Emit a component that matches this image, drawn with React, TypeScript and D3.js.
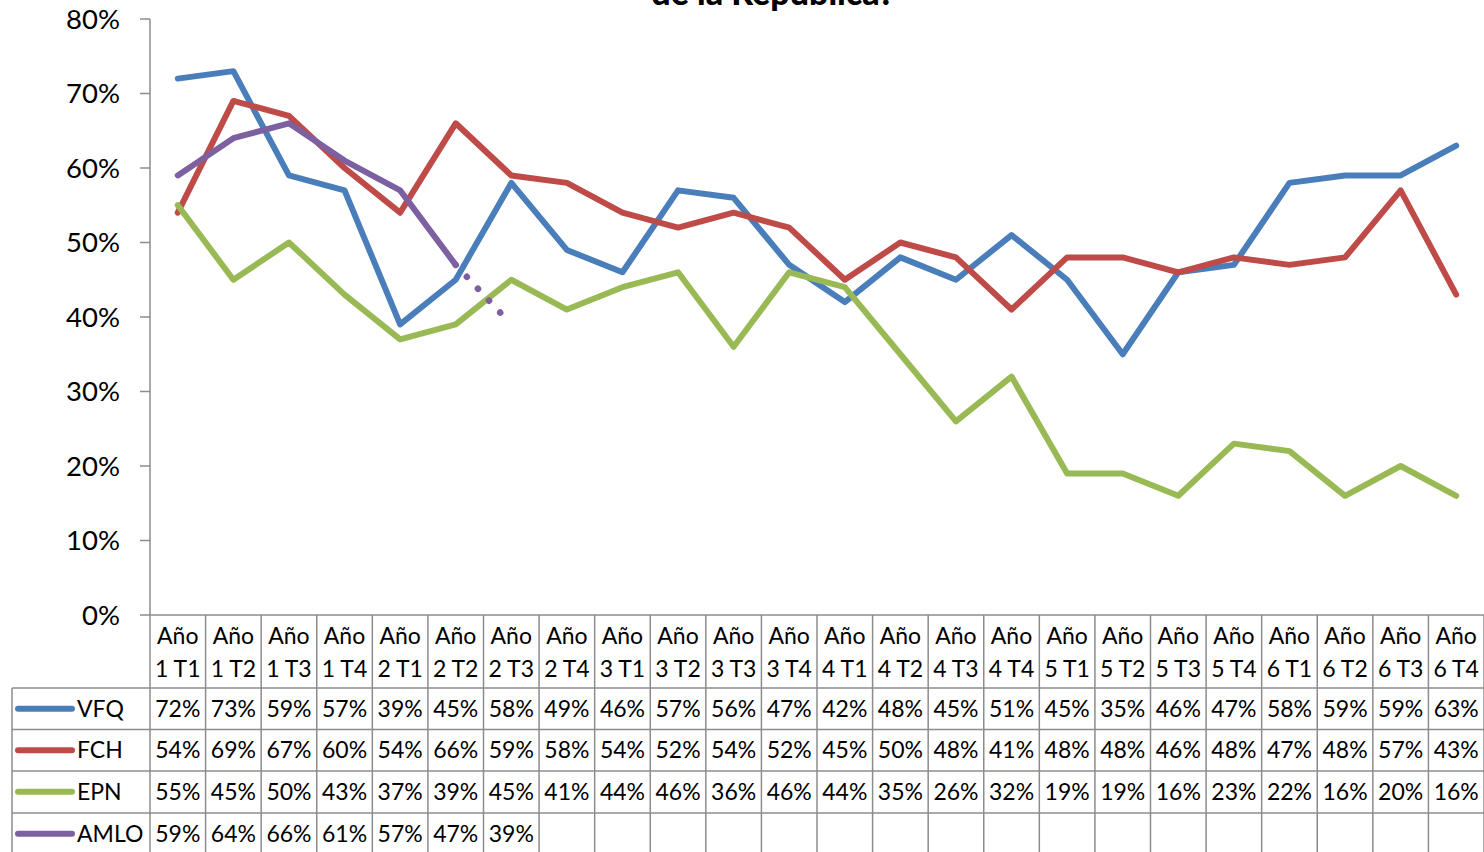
import React from "react";
import * as d3 from "d3";

const categories = [
  "Año 1 T1","Año 1 T2","Año 1 T3","Año 1 T4","Año 2 T1","Año 2 T2","Año 2 T3","Año 2 T4",
  "Año 3 T1","Año 3 T2","Año 3 T3","Año 3 T4","Año 4 T1","Año 4 T2","Año 4 T3","Año 4 T4",
  "Año 5 T1","Año 5 T2","Año 5 T3","Año 5 T4","Año 6 T1","Año 6 T2","Año 6 T3","Año 6 T4",
];
const vfq = [72,73,59,57,39,45,58,49,46,57,56,47,42,48,45,51,45,35,46,47,58,59,59,63];
const fch = [54,69,67,60,54,66,59,58,54,52,54,52,45,50,48,41,48,48,46,48,47,48,57,43];
const epn = [55,45,50,43,37,39,45,41,44,46,36,46,44,35,26,32,19,19,16,23,22,16,20,16];
const amlo = [59,64,66,61,57,47,39];
const yTicks = [0,10,20,30,40,50,60,70,80];

const seriesList = [
  { name: "VFQ", values: vfq, color: "#4A7EBB" },
  { name: "FCH", values: fch, color: "#BE4B48" },
  { name: "EPN", values: epn, color: "#98B954" },
  { name: "AMLO", values: amlo, color: "#7D60A0" },
];

const W = 1484, H = 852;
const FONT = "Lato, 'Noto Sans', sans-serif";
const GRID = "#8C8C8C";

export default function App() {
  const x = d3.scaleBand<number>().domain(categories.map((_, i) => i)).range([150, 1484]).padding(0);
  const cx = (i: number) => (x(i) as number) + x.bandwidth() / 2;
  const y = d3.scaleLinear().domain([0, 80]).range([615, 19]);
  const line = d3.line<number>().x((_, i) => cx(i)).y((d) => y(d));

  const rowTops = [688, 729.5, 771, 813];
  const rowH = 41.5;

  // AMLO: solid through 6 points, dotted toward the 7th
  const amloSolid = amlo.slice(0, 6);
  const a0 = [cx(5), y(amlo[5])];
  const a1 = [cx(6), y(amlo[6])];
  const t = 0.82;
  const dotEnd = [a0[0] + (a1[0] - a0[0]) * t, a0[1] + (a1[1] - a0[1]) * t];

  return (
    <svg width={W} height={H} style={{ position: "absolute", left: 0, top: 0, background: "#fff" }} fontFamily={FONT}>
      <rect x={0} y={0} width={W} height={H} fill="#fff" />
      <text x={773} y={5} textAnchor="middle" fontWeight="900" fontSize={34} fill="#000">de la República?</text>

      {/* y axis */}
      <line x1={150} x2={150} y1={19} y2={615} stroke={GRID} strokeWidth={1.5} />
      {yTicks.map((t) => (
        <g key={t}>
          <line x1={140} x2={150} y1={y(t)} y2={y(t)} stroke={GRID} strokeWidth={1.5} />
          <text x={120} y={y(t)} dy="0.35em" textAnchor="end" fontSize={27.5} fill="#000">{t}%</text>
        </g>
      ))}

      {/* data table grid */}
      <line x1={150} x2={1484} y1={615} y2={615} stroke={GRID} strokeWidth={1.5} />
      {d3.range(categories.length + 1).map((i) => (
        <line key={i} x1={150 + i * x.bandwidth()} x2={150 + i * x.bandwidth()} y1={615} y2={H}
          stroke={GRID} strokeWidth={1.5} />
      ))}
      {rowTops.map((r, k) => (
        <line key={k} x1={12} x2={1484} y1={r} y2={r} stroke={GRID} strokeWidth={1.5} />
      ))}
      <line x1={12} x2={12} y1={688} y2={H} stroke={GRID} strokeWidth={1.5} />

      {/* header labels */}
      {categories.map((c, i) => {
        const parts = c.split(" ");
        return (
          <g key={c}>
            <text x={cx(i)} y={636} dy="0.35em" textAnchor="middle" fontSize={23} fill="#000">{parts[0]}</text>
            <text x={cx(i)} y={669} dy="0.35em" textAnchor="middle" fontSize={23} fill="#000">{parts[1] + " " + parts[2]}</text>
          </g>
        );
      })}

      {/* table rows */}
      {seriesList.map((s, k) => (
        <g key={s.name}>
          <line x1={18} x2={72} y1={rowTops[k] + rowH / 2} y2={rowTops[k] + rowH / 2}
            stroke={s.color} strokeWidth={6} strokeLinecap="round" />
          <text x={77} y={rowTops[k] + rowH / 2} dy="0.35em" fontSize={23} fill="#000">{s.name}</text>
          {s.values.map((v, i) => (
            <text key={i} x={cx(i)} y={rowTops[k] + rowH / 2} dy="0.35em" textAnchor="middle" fontSize={23} fill="#000">{v}%</text>
          ))}
        </g>
      ))}

      {/* lines */}
      {seriesList.slice(0, 3).map((s) => (
        <path key={s.name} d={line(s.values) as string} fill="none" stroke={s.color} strokeWidth={6} strokeLinejoin="round" strokeLinecap="round" />
      ))}
      <path d={line(amloSolid) as string} fill="none" stroke="#7D60A0" strokeWidth={6} strokeLinejoin="round" strokeLinecap="round" />
      <path d={`M${a0[0]},${a0[1]}L${dotEnd[0]},${dotEnd[1]}`} fill="none" stroke="#7D60A0" strokeWidth={6.5}
        strokeLinecap="round" strokeDasharray="0.1 16.2" />
    </svg>
  );
}
